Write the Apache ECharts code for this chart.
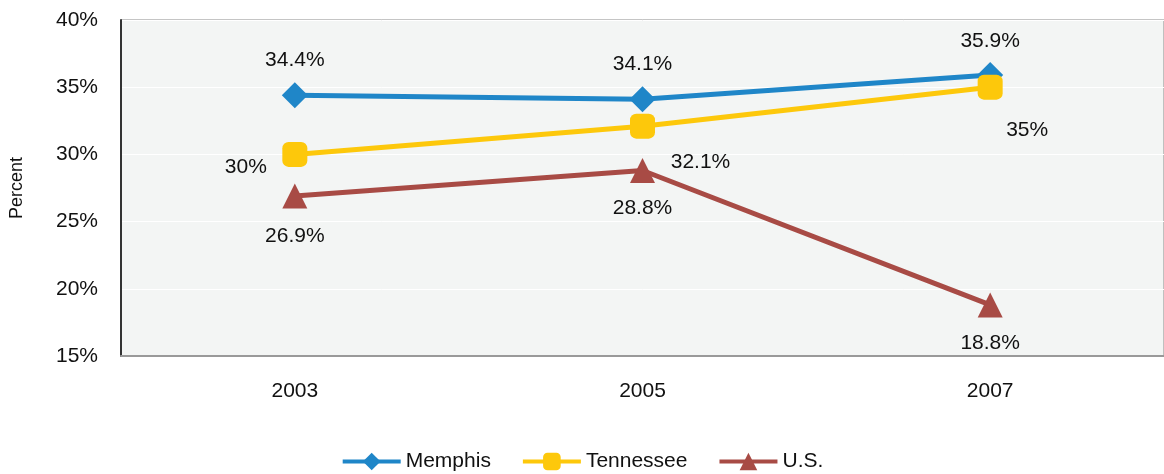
<!DOCTYPE html>
<html>
<head>
<meta charset="utf-8">
<script src="https://cdn.jsdelivr.net/npm/echarts@6/dist/echarts.min.js"></script>
<style>
  html, body { margin: 0; padding: 0; background: #fff; }
  #chart { width: 1164px; height: 474px; }
</style>
</head>
<body>
<div id="chart"></div>
<script>
const years = ['2003', '2005', '2007'];
const memphis = [34.4, 34.1, 35.9];
const tennessee = [30, 32.1, 35];
const us = [26.9, 28.8, 18.8];

// label offsets (px) from each marker centre
const memphisOff = [[0, -35], [0, -35], [0, -34]];
const tennOff = [[-49, 13], [58, 36], [37, 43]];
const usOff = [[0, 40], [0, 38], [0, 38]];

const font = 'Liberation Sans, Arial, sans-serif';

function points(values, offs) {
  return values.map((v, i) => ({
    value: v,
    label: { offset: offs[i] }
  }));
}

const chart = echarts.init(document.getElementById('chart'));
const labelBase = {
  show: true,
  position: 'inside',
  color: '#111',
  fontSize: 21,
  fontFamily: font,
  formatter: p => p.value + '%'
};

chart.setOption({
  animation: false,
  textStyle: { fontFamily: font },
  grid: {
    left: 120, top: 20, width: 1052, height: 336,
    show: true,
    backgroundColor: '#f3f5f4',
    borderColor: '#8a8a8a',
    borderWidth: 1
  },
  legend: {
    bottom: -3,
    left: 'center',
    itemWidth: 58,
    itemHeight: 22,
    itemGap: 30,
    lineStyle: { width: 4 },
    textStyle: { fontSize: 21, color: '#111', fontFamily: font },
    data: ['Memphis', 'Tennessee', 'U.S.']
  },
  xAxis: {
    type: 'category',
    data: years,
    boundaryGap: true,
    axisLine: { lineStyle: { color: '#999', width: 2 } },
    axisTick: { show: false },
    axisLabel: { color: '#111', fontSize: 21, margin: 25 }
  },
  yAxis: {
    type: 'value',
    min: 15, max: 40, interval: 5,
    name: 'Percent',
    nameLocation: 'middle',
    nameGap: 95,
    nameTextStyle: { color: '#111', fontSize: 18 },
    axisLine: { show: true, lineStyle: { color: '#333', width: 2 } },
    axisTick: { show: false },
    axisLabel: { color: '#111', fontSize: 21, margin: 23, formatter: '{value}%' },
    splitLine: { lineStyle: { color: '#ffffff', width: 1 } }
  },
  series: [
    {
      name: 'Memphis', type: 'line',
      data: points(memphis, memphisOff),
      color: '#1f86c8',
      lineStyle: { width: 5 },
      symbol: 'diamond', symbolSize: 26,
      label: labelBase
    },
    {
      name: 'Tennessee', type: 'line',
      data: points(tennessee, tennOff),
      color: '#fdc80b',
      lineStyle: { width: 5 },
      symbol: 'roundRect', symbolSize: 25,
      label: labelBase
    },
    {
      name: 'U.S.', type: 'line',
      data: points(us, usOff),
      color: '#a84b45',
      lineStyle: { width: 5 },
      symbol: 'triangle', symbolSize: 25,
      label: labelBase
    }
  ]
});
</script>
</body>
</html>
